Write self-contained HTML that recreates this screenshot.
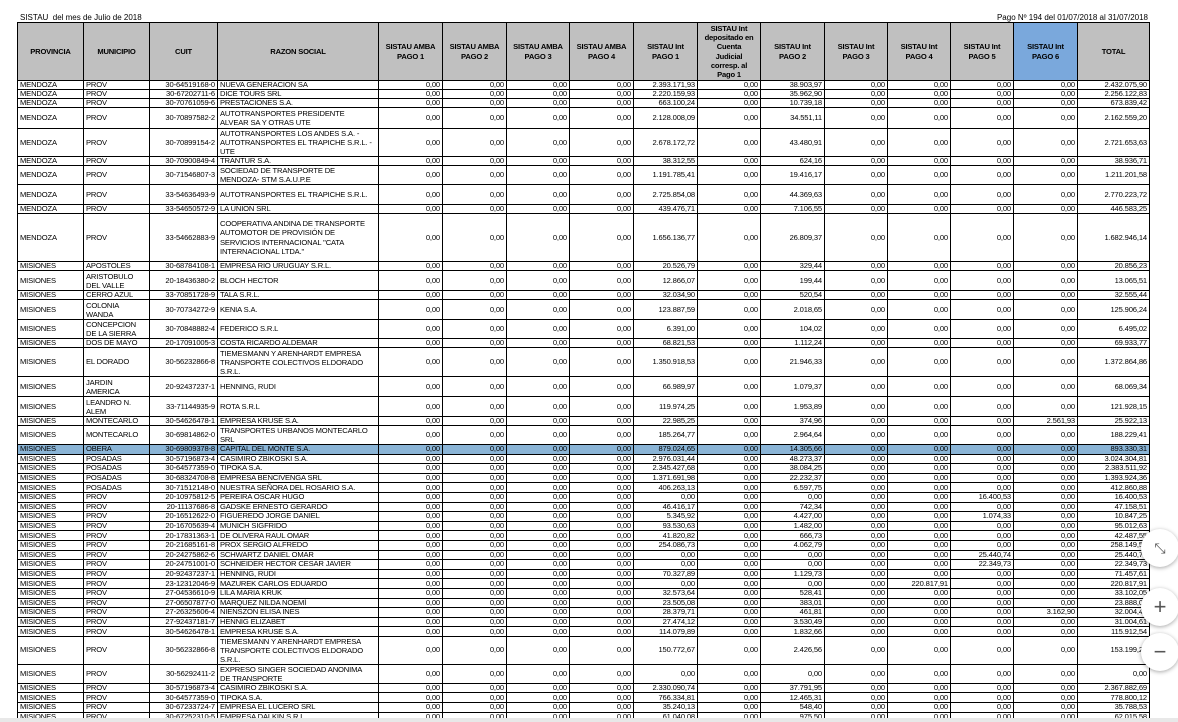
<!DOCTYPE html>
<html><head><meta charset="utf-8">
<style>
html,body{margin:0;padding:0;background:#fff;width:1178px;height:722px;overflow:hidden;font-family:"Liberation Sans",Arial,sans-serif;}
.t1{position:absolute;left:20px;top:13px;font-size:8px;color:#000;}
.t2{position:absolute;right:30px;top:13px;font-size:8px;color:#000;}
table{position:absolute;left:17px;top:22px;border-collapse:collapse;table-layout:fixed;font-size:7.6px;line-height:8px;color:#000;letter-spacing:-0.15px;}
td,th{border:1px solid #000;padding:0 2px;overflow:hidden;white-space:nowrap;}
th{background:#c0c0c0;font-weight:bold;text-align:center;line-height:9.3px;height:57px;padding:0 1px;letter-spacing:-0.2px;}
th.b{background:#7aa8dc;}
td{text-align:right;vertical-align:middle;}
td.l{text-align:left;}
td.w{text-align:left;line-height:9px;}
tr.s{height:9.6px;}
tr.s td{line-height:8px;}
tr.hl td{background:#8ab4d6;}
.bot{position:absolute;left:0;top:718px;width:1178px;height:4px;background:#e8e8e8;}
.btn{position:absolute;left:1141px;width:38px;height:38px;border-radius:50%;background:#fff;box-shadow:0 1px 4px rgba(0,0,0,.35);color:#555;font-size:22px;line-height:38px;text-align:center;}
</style></head><body>
<div class="t1">SISTAU&nbsp; del mes de Julio de 2018</div>
<div class="t2">Pago Nº 194 del 01/07/2018 al 31/07/2018</div>
<table>
<colgroup><col style="width:66px"><col style="width:66px"><col style="width:68px"><col style="width:161px"><col style="width:64px"><col style="width:64px"><col style="width:63px"><col style="width:64px"><col style="width:64px"><col style="width:63px"><col style="width:64px"><col style="width:63px"><col style="width:63px"><col style="width:63px"><col style="width:64px"><col style="width:72px"></colgroup>
<tr><th>PROVINCIA</th><th>MUNICIPIO</th><th>CUIT</th><th>RAZON SOCIAL</th><th>SISTAU AMBA<br>PAGO 1</th><th>SISTAU AMBA<br>PAGO 2</th><th>SISTAU AMBA<br>PAGO 3</th><th>SISTAU AMBA<br>PAGO 4</th><th>SISTAU Int<br>PAGO 1</th><th>SISTAU Int<br>depositado en<br>Cuenta<br>Judicial<br>corresp. al<br>Pago 1</th><th>SISTAU Int<br>PAGO 2</th><th>SISTAU Int<br>PAGO 3</th><th>SISTAU Int<br>PAGO 4</th><th>SISTAU Int<br>PAGO 5</th><th class="b">SISTAU Int<br>PAGO 6</th><th>TOTAL</th></tr>
<tr class="s" style="height:9px"><td class="l">MENDOZA</td><td class="l">PROV</td><td>30-64519168-0</td><td class="l">NUEVA GENERACION SA</td><td>0,00</td><td>0,00</td><td>0,00</td><td>0,00</td><td>2.393.171,93</td><td>0,00</td><td>38.903,97</td><td>0,00</td><td>0,00</td><td>0,00</td><td>0,00</td><td>2.432.075,90</td></tr>
<tr class="s" style="height:9px"><td class="l">MENDOZA</td><td class="l">PROV</td><td>30-67202711-6</td><td class="l">DICE TOURS SRL</td><td>0,00</td><td>0,00</td><td>0,00</td><td>0,00</td><td>2.220.159,93</td><td>0,00</td><td>35.962,90</td><td>0,00</td><td>0,00</td><td>0,00</td><td>0,00</td><td>2.256.122,83</td></tr>
<tr class="s" style="height:9px"><td class="l">MENDOZA</td><td class="l">PROV</td><td>30-70761059-6</td><td class="l">PRESTACIONES S.A.</td><td>0,00</td><td>0,00</td><td>0,00</td><td>0,00</td><td>663.100,24</td><td>0,00</td><td>10.739,18</td><td>0,00</td><td>0,00</td><td>0,00</td><td>0,00</td><td>673.839,42</td></tr>
<tr style="height:21px"><td class="l">MENDOZA</td><td class="l">PROV</td><td>30-70897582-2</td><td class="w">AUTOTRANSPORTES PRESIDENTE<br>ALVEAR SA Y OTRAS UTE</td><td>0,00</td><td>0,00</td><td>0,00</td><td>0,00</td><td>2.128.008,09</td><td>0,00</td><td>34.551,11</td><td>0,00</td><td>0,00</td><td>0,00</td><td>0,00</td><td>2.162.559,20</td></tr>
<tr style="height:28px"><td class="l">MENDOZA</td><td class="l">PROV</td><td>30-70899154-2</td><td class="w">AUTOTRANSPORTES LOS ANDES S.A. -<br>AUTOTRANSPORTES EL TRAPICHE S.R.L. -<br>UTE</td><td>0,00</td><td>0,00</td><td>0,00</td><td>0,00</td><td>2.678.172,72</td><td>0,00</td><td>43.480,91</td><td>0,00</td><td>0,00</td><td>0,00</td><td>0,00</td><td>2.721.653,63</td></tr>
<tr class="s" style="height:9px"><td class="l">MENDOZA</td><td class="l">PROV</td><td>30-70900849-4</td><td class="l">TRANTUR S.A.</td><td>0,00</td><td>0,00</td><td>0,00</td><td>0,00</td><td>38.312,55</td><td>0,00</td><td>624,16</td><td>0,00</td><td>0,00</td><td>0,00</td><td>0,00</td><td>38.936,71</td></tr>
<tr style="height:19px"><td class="l">MENDOZA</td><td class="l">PROV</td><td>30-71546807-3</td><td class="w">SOCIEDAD DE TRANSPORTE DE<br>MENDOZA- STM S.A.U.P.E</td><td>0,00</td><td>0,00</td><td>0,00</td><td>0,00</td><td>1.191.785,41</td><td>0,00</td><td>19.416,17</td><td>0,00</td><td>0,00</td><td>0,00</td><td>0,00</td><td>1.211.201,58</td></tr>
<tr style="height:20px"><td class="l">MENDOZA</td><td class="l">PROV</td><td>33-54636493-9</td><td class="w">AUTOTRANSPORTES EL TRAPICHE S.R.L.</td><td>0,00</td><td>0,00</td><td>0,00</td><td>0,00</td><td>2.725.854,08</td><td>0,00</td><td>44.369,63</td><td>0,00</td><td>0,00</td><td>0,00</td><td>0,00</td><td>2.770.223,72</td></tr>
<tr class="s" style="height:9px"><td class="l">MENDOZA</td><td class="l">PROV</td><td>33-54650572-9</td><td class="l">LA UNION SRL</td><td>0,00</td><td>0,00</td><td>0,00</td><td>0,00</td><td>439.476,71</td><td>0,00</td><td>7.106,55</td><td>0,00</td><td>0,00</td><td>0,00</td><td>0,00</td><td>446.583,25</td></tr>
<tr style="height:48px"><td class="l">MENDOZA</td><td class="l">PROV</td><td>33-54662883-9</td><td class="w" style="line-height:9.5px">COOPERATIVA ANDINA DE TRANSPORTE<br>AUTOMOTOR DE PROVISIÓN DE<br>SERVICIOS INTERNACIONAL "CATA<br>INTERNACIONAL LTDA."</td><td>0,00</td><td>0,00</td><td>0,00</td><td>0,00</td><td>1.656.136,77</td><td>0,00</td><td>26.809,37</td><td>0,00</td><td>0,00</td><td>0,00</td><td>0,00</td><td>1.682.946,14</td></tr>
<tr class="s" style="height:9px"><td class="l">MISIONES</td><td class="l">APOSTOLES</td><td>30-68784108-1</td><td class="l">EMPRESA RIO URUGUAY S.R.L.</td><td>0,00</td><td>0,00</td><td>0,00</td><td>0,00</td><td>20.526,79</td><td>0,00</td><td>329,44</td><td>0,00</td><td>0,00</td><td>0,00</td><td>0,00</td><td>20.856,23</td></tr>
<tr style="height:20px"><td class="l">MISIONES</td><td class="w">ARISTOBULO<br>DEL VALLE</td><td>20-18436380-2</td><td class="l">BLOCH HECTOR</td><td>0,00</td><td>0,00</td><td>0,00</td><td>0,00</td><td>12.866,07</td><td>0,00</td><td>199,44</td><td>0,00</td><td>0,00</td><td>0,00</td><td>0,00</td><td>13.065,51</td></tr>
<tr class="s" style="height:9px"><td class="l">MISIONES</td><td class="l">CERRO AZUL</td><td>33-70851728-9</td><td class="l">TALA S.R.L.</td><td>0,00</td><td>0,00</td><td>0,00</td><td>0,00</td><td>32.034,90</td><td>0,00</td><td>520,54</td><td>0,00</td><td>0,00</td><td>0,00</td><td>0,00</td><td>32.555,44</td></tr>
<tr style="height:20px"><td class="l">MISIONES</td><td class="w">COLONIA<br>WANDA</td><td>30-70734272-9</td><td class="l">KENIA S.A.</td><td>0,00</td><td>0,00</td><td>0,00</td><td>0,00</td><td>123.887,59</td><td>0,00</td><td>2.018,65</td><td>0,00</td><td>0,00</td><td>0,00</td><td>0,00</td><td>125.906,24</td></tr>
<tr style="height:19px"><td class="l">MISIONES</td><td class="w">CONCEPCION<br>DE LA SIERRA</td><td>30-70848882-4</td><td class="l">FEDERICO S.R.L</td><td>0,00</td><td>0,00</td><td>0,00</td><td>0,00</td><td>6.391,00</td><td>0,00</td><td>104,02</td><td>0,00</td><td>0,00</td><td>0,00</td><td>0,00</td><td>6.495,02</td></tr>
<tr class="s" style="height:8.5px"><td class="l">MISIONES</td><td class="l">DOS DE MAYO</td><td>20-17091005-3</td><td class="l">COSTA RICARDO ALDEMAR</td><td>0,00</td><td>0,00</td><td>0,00</td><td>0,00</td><td>68.821,53</td><td>0,00</td><td>1.112,24</td><td>0,00</td><td>0,00</td><td>0,00</td><td>0,00</td><td>69.933,77</td></tr>
<tr style="height:29px"><td class="l">MISIONES</td><td class="l">EL DORADO</td><td>30-56232866-8</td><td class="w">TIEMESMANN Y ARENHARDT EMPRESA<br>TRANSPORTE COLECTIVOS ELDORADO<br>S.R.L.</td><td>0,00</td><td>0,00</td><td>0,00</td><td>0,00</td><td>1.350.918,53</td><td>0,00</td><td>21.946,33</td><td>0,00</td><td>0,00</td><td>0,00</td><td>0,00</td><td>1.372.864,86</td></tr>
<tr style="height:20px"><td class="l">MISIONES</td><td class="w">JARDIN<br>AMERICA</td><td>20-92437237-1</td><td class="l">HENNING, RUDI</td><td>0,00</td><td>0,00</td><td>0,00</td><td>0,00</td><td>66.989,97</td><td>0,00</td><td>1.079,37</td><td>0,00</td><td>0,00</td><td>0,00</td><td>0,00</td><td>68.069,34</td></tr>
<tr style="height:20px"><td class="l">MISIONES</td><td class="w">LEANDRO N.<br>ALEM</td><td>33-71144935-9</td><td class="l">ROTA S.R.L</td><td>0,00</td><td>0,00</td><td>0,00</td><td>0,00</td><td>119.974,25</td><td>0,00</td><td>1.953,89</td><td>0,00</td><td>0,00</td><td>0,00</td><td>0,00</td><td>121.928,15</td></tr>
<tr class="s" style="height:9px"><td class="l">MISIONES</td><td class="l">MONTECARLO</td><td>30-54626478-1</td><td class="l">EMPRESA KRUSE S.A.</td><td>0,00</td><td>0,00</td><td>0,00</td><td>0,00</td><td>22.985,25</td><td>0,00</td><td>374,96</td><td>0,00</td><td>0,00</td><td>0,00</td><td>2.561,93</td><td>25.922,13</td></tr>
<tr style="height:19px"><td class="l">MISIONES</td><td class="l">MONTECARLO</td><td>30-69814862-0</td><td class="w">TRANSPORTES URBANOS MONTECARLO<br>SRL</td><td>0,00</td><td>0,00</td><td>0,00</td><td>0,00</td><td>185.264,77</td><td>0,00</td><td>2.964,64</td><td>0,00</td><td>0,00</td><td>0,00</td><td>0,00</td><td>188.229,41</td></tr>
<tr class="s hl"><td class="l">MISIONES</td><td class="l">OBERA</td><td>30-69809378-8</td><td class="l">CAPITAL DEL MONTE S.A.</td><td>0,00</td><td>0,00</td><td>0,00</td><td>0,00</td><td>879.024,65</td><td>0,00</td><td>14.305,66</td><td>0,00</td><td>0,00</td><td>0,00</td><td>0,00</td><td>893.330,31</td></tr>
<tr class="s"><td class="l">MISIONES</td><td class="l">POSADAS</td><td>30-57196873-4</td><td class="l">CASIMIRO ZBIKOSKI S.A.</td><td>0,00</td><td>0,00</td><td>0,00</td><td>0,00</td><td>2.976.031,44</td><td>0,00</td><td>48.273,37</td><td>0,00</td><td>0,00</td><td>0,00</td><td>0,00</td><td>3.024.304,81</td></tr>
<tr class="s"><td class="l">MISIONES</td><td class="l">POSADAS</td><td>30-64577359-0</td><td class="l">TIPOKA S.A.</td><td>0,00</td><td>0,00</td><td>0,00</td><td>0,00</td><td>2.345.427,68</td><td>0,00</td><td>38.084,25</td><td>0,00</td><td>0,00</td><td>0,00</td><td>0,00</td><td>2.383.511,92</td></tr>
<tr class="s"><td class="l">MISIONES</td><td class="l">POSADAS</td><td>30-68324708-8</td><td class="l">EMPRESA BENCIVENGA SRL</td><td>0,00</td><td>0,00</td><td>0,00</td><td>0,00</td><td>1.371.691,98</td><td>0,00</td><td>22.232,37</td><td>0,00</td><td>0,00</td><td>0,00</td><td>0,00</td><td>1.393.924,36</td></tr>
<tr class="s"><td class="l">MISIONES</td><td class="l">POSADAS</td><td>30-71512148-0</td><td class="l">NUESTRA SEÑORA DEL ROSARIO S.A.</td><td>0,00</td><td>0,00</td><td>0,00</td><td>0,00</td><td>406.263,13</td><td>0,00</td><td>6.597,75</td><td>0,00</td><td>0,00</td><td>0,00</td><td>0,00</td><td>412.860,88</td></tr>
<tr class="s"><td class="l">MISIONES</td><td class="l">PROV</td><td>20-10975812-5</td><td class="l">PEREIRA OSCAR HUGO</td><td>0,00</td><td>0,00</td><td>0,00</td><td>0,00</td><td>0,00</td><td>0,00</td><td>0,00</td><td>0,00</td><td>0,00</td><td>16.400,53</td><td>0,00</td><td>16.400,53</td></tr>
<tr class="s"><td class="l">MISIONES</td><td class="l">PROV</td><td>20-11137686-8</td><td class="l">GADSKE ERNESTO GERARDO</td><td>0,00</td><td>0,00</td><td>0,00</td><td>0,00</td><td>46.416,17</td><td>0,00</td><td>742,34</td><td>0,00</td><td>0,00</td><td>0,00</td><td>0,00</td><td>47.158,51</td></tr>
<tr class="s"><td class="l">MISIONES</td><td class="l">PROV</td><td>20-16512622-0</td><td class="l">FIGUEREDO JORGE DANIEL</td><td>0,00</td><td>0,00</td><td>0,00</td><td>0,00</td><td>5.345,92</td><td>0,00</td><td>4.427,00</td><td>0,00</td><td>0,00</td><td>1.074,33</td><td>0,00</td><td>10.847,25</td></tr>
<tr class="s"><td class="l">MISIONES</td><td class="l">PROV</td><td>20-16705639-4</td><td class="l">MUNICH SIGFRIDO</td><td>0,00</td><td>0,00</td><td>0,00</td><td>0,00</td><td>93.530,63</td><td>0,00</td><td>1.482,00</td><td>0,00</td><td>0,00</td><td>0,00</td><td>0,00</td><td>95.012,63</td></tr>
<tr class="s"><td class="l">MISIONES</td><td class="l">PROV</td><td>20-17831363-1</td><td class="l">DE OLIVERA RAUL OMAR</td><td>0,00</td><td>0,00</td><td>0,00</td><td>0,00</td><td>41.820,82</td><td>0,00</td><td>666,73</td><td>0,00</td><td>0,00</td><td>0,00</td><td>0,00</td><td>42.487,55</td></tr>
<tr class="s"><td class="l">MISIONES</td><td class="l">PROV</td><td>20-21685161-8</td><td class="l">PROX SERGIO ALFREDO</td><td>0,00</td><td>0,00</td><td>0,00</td><td>0,00</td><td>254.086,73</td><td>0,00</td><td>4.062,79</td><td>0,00</td><td>0,00</td><td>0,00</td><td>0,00</td><td>258.149,52</td></tr>
<tr class="s"><td class="l">MISIONES</td><td class="l">PROV</td><td>20-24275862-6</td><td class="l">SCHWARTZ DANIEL OMAR</td><td>0,00</td><td>0,00</td><td>0,00</td><td>0,00</td><td>0,00</td><td>0,00</td><td>0,00</td><td>0,00</td><td>0,00</td><td>25.440,74</td><td>0,00</td><td>25.440,74</td></tr>
<tr class="s"><td class="l">MISIONES</td><td class="l">PROV</td><td>20-24751001-0</td><td class="l">SCHNEIDER HECTOR CESAR JAVIER</td><td>0,00</td><td>0,00</td><td>0,00</td><td>0,00</td><td>0,00</td><td>0,00</td><td>0,00</td><td>0,00</td><td>0,00</td><td>22.349,73</td><td>0,00</td><td>22.349,73</td></tr>
<tr class="s"><td class="l">MISIONES</td><td class="l">PROV</td><td>20-92437237-1</td><td class="l">HENNING, RUDI</td><td>0,00</td><td>0,00</td><td>0,00</td><td>0,00</td><td>70.327,89</td><td>0,00</td><td>1.129,73</td><td>0,00</td><td>0,00</td><td>0,00</td><td>0,00</td><td>71.457,61</td></tr>
<tr class="s"><td class="l">MISIONES</td><td class="l">PROV</td><td>23-12312046-9</td><td class="l">MAZUREK CARLOS EDUARDO</td><td>0,00</td><td>0,00</td><td>0,00</td><td>0,00</td><td>0,00</td><td>0,00</td><td>0,00</td><td>0,00</td><td>220.817,91</td><td>0,00</td><td>0,00</td><td>220.817,91</td></tr>
<tr class="s"><td class="l">MISIONES</td><td class="l">PROV</td><td>27-04536610-9</td><td class="l">LILA MARIA KRUK</td><td>0,00</td><td>0,00</td><td>0,00</td><td>0,00</td><td>32.573,64</td><td>0,00</td><td>528,41</td><td>0,00</td><td>0,00</td><td>0,00</td><td>0,00</td><td>33.102,05</td></tr>
<tr class="s"><td class="l">MISIONES</td><td class="l">PROV</td><td>27-06507877-0</td><td class="l">MARQUEZ NILDA NOEMÍ</td><td>0,00</td><td>0,00</td><td>0,00</td><td>0,00</td><td>23.505,08</td><td>0,00</td><td>383,01</td><td>0,00</td><td>0,00</td><td>0,00</td><td>0,00</td><td>23.888,09</td></tr>
<tr class="s"><td class="l">MISIONES</td><td class="l">PROV</td><td>27-26325606-4</td><td class="l">NIENSZON ELISA INES</td><td>0,00</td><td>0,00</td><td>0,00</td><td>0,00</td><td>28.379,71</td><td>0,00</td><td>461,81</td><td>0,00</td><td>0,00</td><td>0,00</td><td>3.162,90</td><td>32.004,42</td></tr>
<tr class="s"><td class="l">MISIONES</td><td class="l">PROV</td><td>27-92437181-7</td><td class="l">HENNIG ELIZABET</td><td>0,00</td><td>0,00</td><td>0,00</td><td>0,00</td><td>27.474,12</td><td>0,00</td><td>3.530,49</td><td>0,00</td><td>0,00</td><td>0,00</td><td>0,00</td><td>31.004,61</td></tr>
<tr class="s"><td class="l">MISIONES</td><td class="l">PROV</td><td>30-54626478-1</td><td class="l">EMPRESA KRUSE S.A.</td><td>0,00</td><td>0,00</td><td>0,00</td><td>0,00</td><td>114.079,89</td><td>0,00</td><td>1.832,66</td><td>0,00</td><td>0,00</td><td>0,00</td><td>0,00</td><td>115.912,54</td></tr>
<tr style="height:28px"><td class="l">MISIONES</td><td class="l">PROV</td><td>30-56232866-8</td><td class="w">TIEMESMANN Y ARENHARDT EMPRESA<br>TRANSPORTE COLECTIVOS ELDORADO<br>S.R.L.</td><td>0,00</td><td>0,00</td><td>0,00</td><td>0,00</td><td>150.772,67</td><td>0,00</td><td>2.426,56</td><td>0,00</td><td>0,00</td><td>0,00</td><td>0,00</td><td>153.199,23</td></tr>
<tr style="height:19px"><td class="l">MISIONES</td><td class="l">PROV</td><td>30-56292411-2</td><td class="w">EXPRESO SINGER SOCIEDAD ANONIMA<br>DE TRANSPORTE</td><td>0,00</td><td>0,00</td><td>0,00</td><td>0,00</td><td>0,00</td><td>0,00</td><td>0,00</td><td>0,00</td><td>0,00</td><td>0,00</td><td>0,00</td><td>0,00</td></tr>
<tr class="s"><td class="l">MISIONES</td><td class="l">PROV</td><td>30-57196873-4</td><td class="l">CASIMIRO ZBIKOSKI S.A.</td><td>0,00</td><td>0,00</td><td>0,00</td><td>0,00</td><td>2.330.090,74</td><td>0,00</td><td>37.791,95</td><td>0,00</td><td>0,00</td><td>0,00</td><td>0,00</td><td>2.367.882,69</td></tr>
<tr class="s"><td class="l">MISIONES</td><td class="l">PROV</td><td>30-64577359-0</td><td class="l">TIPOKA S.A.</td><td>0,00</td><td>0,00</td><td>0,00</td><td>0,00</td><td>766.334,81</td><td>0,00</td><td>12.465,31</td><td>0,00</td><td>0,00</td><td>0,00</td><td>0,00</td><td>778.800,12</td></tr>
<tr class="s"><td class="l">MISIONES</td><td class="l">PROV</td><td>30-67233724-7</td><td class="l">EMPRESA EL LUCERO SRL</td><td>0,00</td><td>0,00</td><td>0,00</td><td>0,00</td><td>35.240,13</td><td>0,00</td><td>548,40</td><td>0,00</td><td>0,00</td><td>0,00</td><td>0,00</td><td>35.788,53</td></tr>
<tr class="s"><td class="l">MISIONES</td><td class="l">PROV</td><td>30-67252310-5</td><td class="l">EMPRESA DALKIN S.R.L.</td><td>0,00</td><td>0,00</td><td>0,00</td><td>0,00</td><td>61.040,08</td><td>0,00</td><td>975,50</td><td>0,00</td><td>0,00</td><td>0,00</td><td>0,00</td><td>62.015,58</td></tr>
</table>
<div class="bot"></div>
<div class="btn" style="top:529px;font-size:14px;">⤡</div>
<div class="btn" style="top:588px;">+</div>
<div class="btn" style="top:633px;">−</div>
</body></html>
